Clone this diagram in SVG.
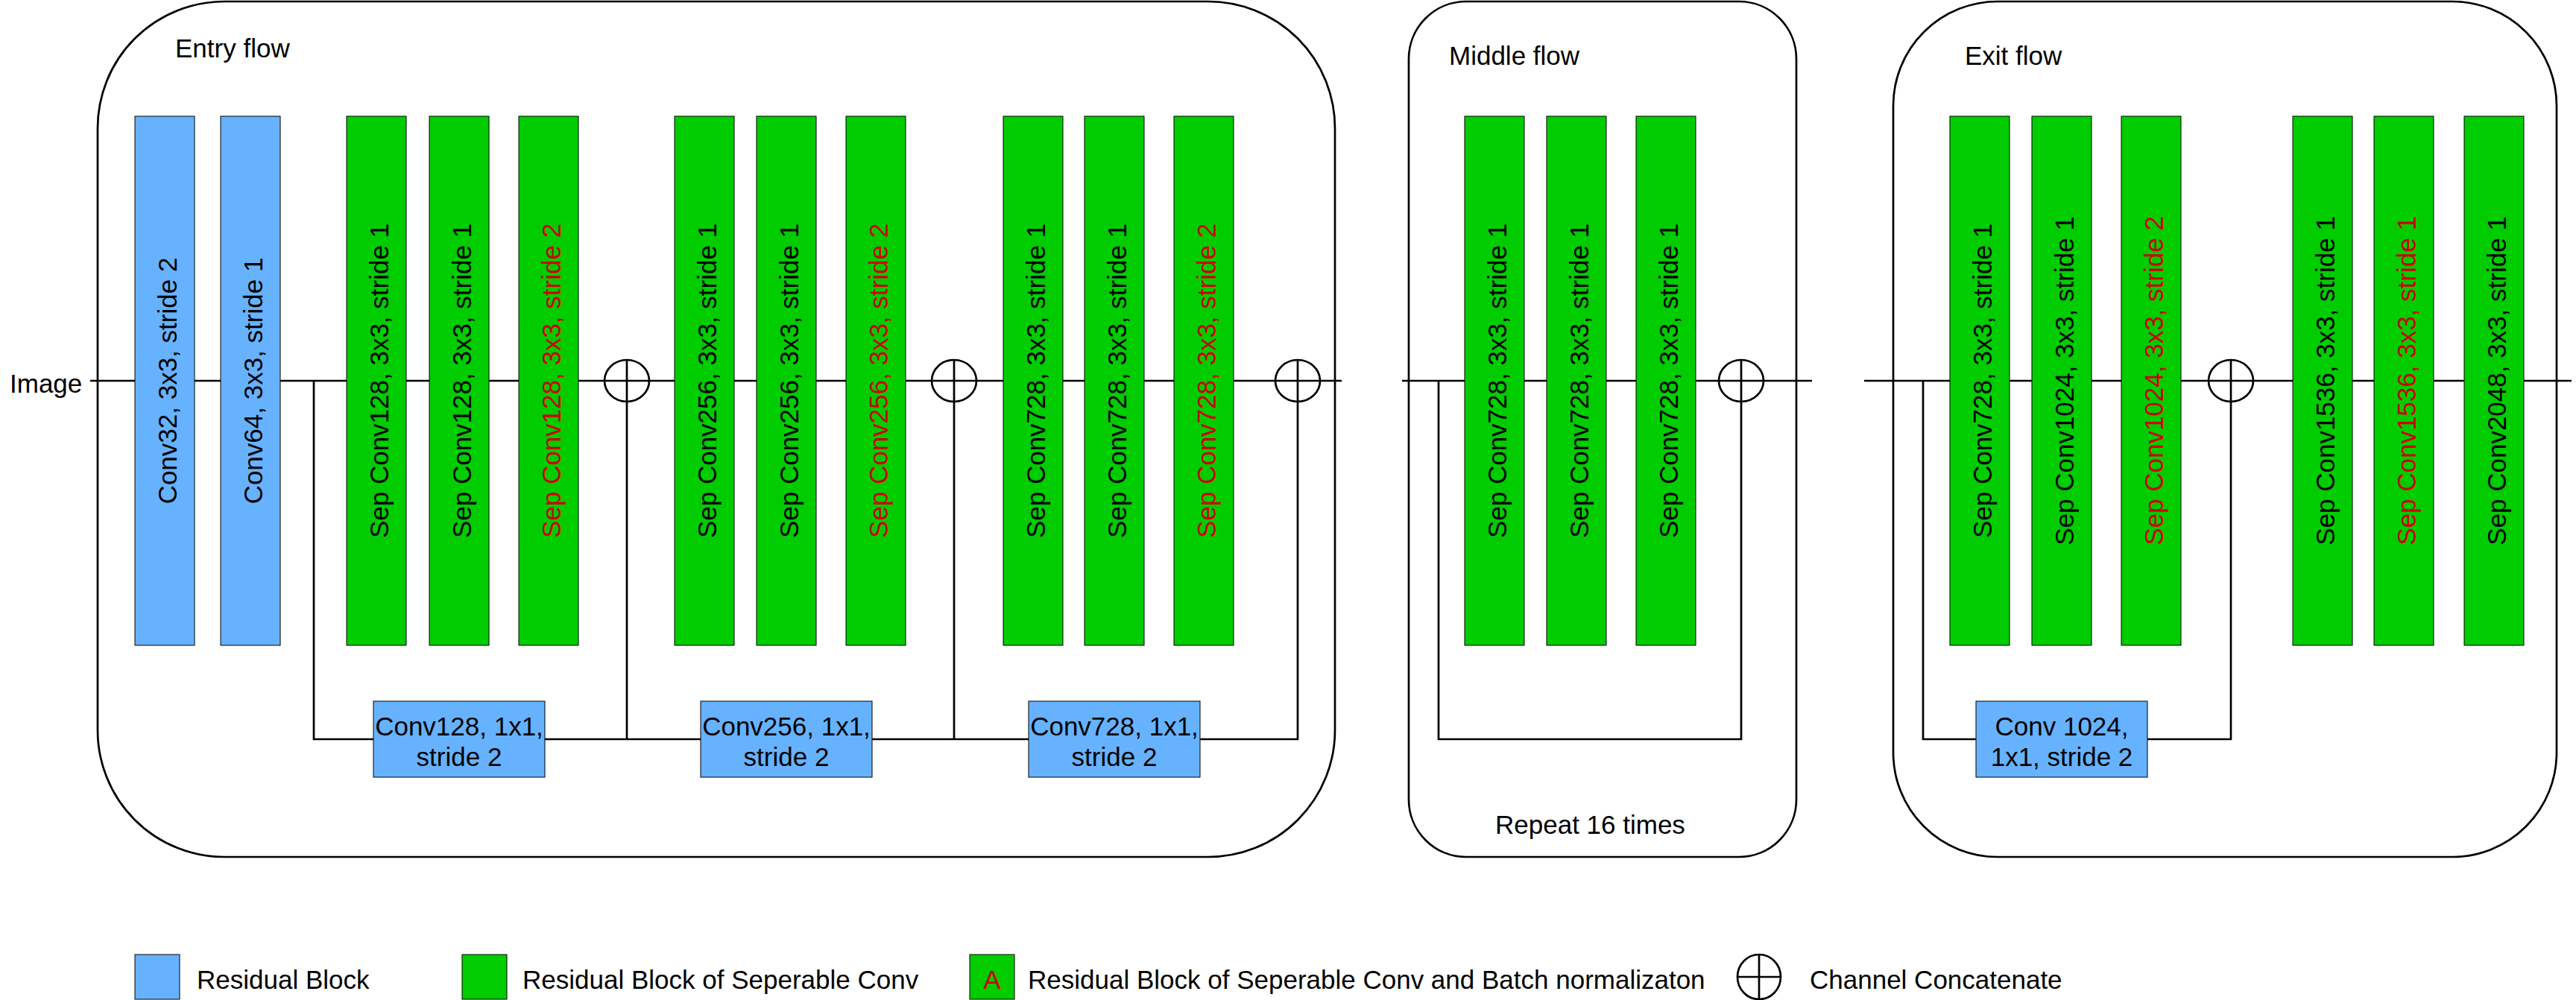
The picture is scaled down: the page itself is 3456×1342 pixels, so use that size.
<svg xmlns="http://www.w3.org/2000/svg" width="3456" height="1342" viewBox="0 0 3456 1342">
<style>
text{font-family:"Liberation Sans",Arial,Helvetica,sans-serif;font-size:35px;fill:#000}
.red{fill:#CC0000}
.mid{text-anchor:middle}
.cont{fill:none;stroke:#000;stroke-width:2.7}
.ln{fill:none;stroke:#000;stroke-width:2.7}
.blue{fill:#66B2FF;stroke:#000;stroke-width:1}
.green{fill:#00CC00;stroke:#000;stroke-width:1}
.cat{fill:none;stroke:#000;stroke-width:2.7}
</style>
<rect width="3456" height="1342" fill="#fff"/>

<g id="containers">
<g id="entry-flow"><rect class="cont" x="131" y="2" width="1660" height="1148" rx="170" ry="170"/><text x="235" y="77">Entry flow</text></g>
<g id="middle-flow"><rect class="cont" x="1890" y="2" width="520" height="1148" rx="77" ry="77"/><text x="1944" y="87">Middle flow</text><text x="2006" y="1119">Repeat 16 times</text></g>
<g id="exit-flow"><rect class="cont" x="2540" y="2" width="890" height="1148" rx="140" ry="140"/><text x="2636" y="87">Exit flow</text></g>
</g>

<g id="connectors">
<path class="ln" d="M121,511 H1800"/>
<path class="ln" d="M421,511 V992 H1741 V483"/>
<path class="ln" d="M841,483 V992 M1280,483 V992"/>
<path class="ln" d="M1881,511 H2431"/>
<path class="ln" d="M1930,511 V992 H2336 V483"/>
<path class="ln" d="M2501,511 H3450"/>
<path class="ln" d="M2580,511 V992 H2993 V483"/>
</g>

<text id="image-label" x="13" y="527">Image</text>

<g id="entry-blocks">
<g id="e1"><rect class="blue" x="181" y="156" width="80" height="710"/><text class="mid" transform="translate(221,511) rotate(-90)" y="16">Conv32, 3x3, stride 2</text></g>
<g id="e2"><rect class="blue" x="296" y="156" width="80" height="710"/><text class="mid" transform="translate(336,511) rotate(-90)" y="16">Conv64, 3x3, stride 1</text></g>
<g id="e3"><rect class="green" x="465" y="156" width="80" height="710"/><text class="mid" transform="translate(505,511) rotate(-90)" y="16">Sep Conv128, 3x3, stride 1</text></g>
<g id="e4"><rect class="green" x="576" y="156" width="80" height="710"/><text class="mid" transform="translate(616,511) rotate(-90)" y="16">Sep Conv128, 3x3, stride 1</text></g>
<g id="e5"><rect class="green" x="696" y="156" width="80" height="710"/><text class="mid red" transform="translate(736,511) rotate(-90)" y="16">Sep Conv128, 3x3, stride 2</text></g>
<g id="e6"><rect class="green" x="905" y="156" width="80" height="710"/><text class="mid" transform="translate(945,511) rotate(-90)" y="16">Sep Conv256, 3x3, stride 1</text></g>
<g id="e7"><rect class="green" x="1015" y="156" width="80" height="710"/><text class="mid" transform="translate(1055,511) rotate(-90)" y="16">Sep Conv256, 3x3, stride 1</text></g>
<g id="e8"><rect class="green" x="1135" y="156" width="80" height="710"/><text class="mid red" transform="translate(1175,511) rotate(-90)" y="16">Sep Conv256, 3x3, stride 2</text></g>
<g id="e9"><rect class="green" x="1346" y="156" width="80" height="710"/><text class="mid" transform="translate(1386,511) rotate(-90)" y="16">Sep Conv728, 3x3, stride 1</text></g>
<g id="e10"><rect class="green" x="1455" y="156" width="80" height="710"/><text class="mid" transform="translate(1495,511) rotate(-90)" y="16">Sep Conv728, 3x3, stride 1</text></g>
<g id="e11"><rect class="green" x="1575" y="156" width="80" height="710"/><text class="mid red" transform="translate(1615,511) rotate(-90)" y="16">Sep Conv728, 3x3, stride 2</text></g>
<g id="r1"><rect class="blue" x="501" y="941" width="230" height="102"/><text class="mid" x="616" y="987">Conv128, 1x1,</text><text class="mid" x="616" y="1028">stride 2</text></g>
<g id="r2"><rect class="blue" x="940" y="941" width="230" height="102"/><text class="mid" x="1055" y="987">Conv256, 1x1,</text><text class="mid" x="1055" y="1028">stride 2</text></g>
<g id="r3"><rect class="blue" x="1380" y="941" width="230" height="102"/><text class="mid" x="1495" y="987">Conv728, 1x1,</text><text class="mid" x="1495" y="1028">stride 2</text></g>
<g id="c1"><ellipse class="cat" cx="841" cy="511" rx="30" ry="28"/></g>
<g id="c2"><ellipse class="cat" cx="1280" cy="511" rx="30" ry="28"/></g>
<g id="c3"><ellipse class="cat" cx="1741" cy="511" rx="30" ry="28"/></g>
</g>

<g id="middle-blocks">
<g id="m1"><rect class="green" x="1965" y="156" width="80" height="710"/><text class="mid" transform="translate(2005,511) rotate(-90)" y="16">Sep Conv728, 3x3, stride 1</text></g>
<g id="m2"><rect class="green" x="2075" y="156" width="80" height="710"/><text class="mid" transform="translate(2115,511) rotate(-90)" y="16">Sep Conv728, 3x3, stride 1</text></g>
<g id="m3"><rect class="green" x="2195" y="156" width="80" height="710"/><text class="mid" transform="translate(2235,511) rotate(-90)" y="16">Sep Conv728, 3x3, stride 1</text></g>
<g id="c4"><ellipse class="cat" cx="2336" cy="511" rx="30" ry="28"/></g>
</g>

<g id="exit-blocks">
<g id="x1"><rect class="green" x="2616" y="156" width="80" height="710"/><text class="mid" transform="translate(2656,511) rotate(-90)" y="16">Sep Conv728, 3x3, stride 1</text></g>
<g id="x2"><rect class="green" x="2726" y="156" width="80" height="710"/><text class="mid" transform="translate(2766,511) rotate(-90)" y="16">Sep Conv1024, 3x3, stride 1</text></g>
<g id="x3"><rect class="green" x="2846" y="156" width="80" height="710"/><text class="mid red" transform="translate(2886,511) rotate(-90)" y="16">Sep Conv1024, 3x3, stride 2</text></g>
<g id="x4"><rect class="green" x="3076" y="156" width="80" height="710"/><text class="mid" transform="translate(3116,511) rotate(-90)" y="16">Sep Conv1536, 3x3, stride 1</text></g>
<g id="x5"><rect class="green" x="3185" y="156" width="80" height="710"/><text class="mid red" transform="translate(3225,511) rotate(-90)" y="16">Sep Conv1536, 3x3, stride 1</text></g>
<g id="x6"><rect class="green" x="3306" y="156" width="80" height="710"/><text class="mid" transform="translate(3346,511) rotate(-90)" y="16">Sep Conv2048, 3x3, stride 1</text></g>
<g id="r4"><rect class="blue" x="2651" y="941" width="230" height="102"/><text class="mid" x="2766" y="987">Conv 1024,</text><text class="mid" x="2766" y="1028">1x1, stride 2</text></g>
<g id="c5"><ellipse class="cat" cx="2993" cy="511" rx="30" ry="28"/></g>
</g>

<g id="legend">
<g id="lg1"><rect class="blue" x="181" y="1281" width="60" height="60" stroke-width="1.5"/><text x="264" y="1327">Residual Block</text></g>
<g id="lg2"><rect class="green" x="620" y="1281" width="60" height="60" stroke-width="1.5"/><text x="701" y="1327">Residual Block of Seperable Conv</text></g>
<g id="lg3"><rect class="green" x="1301" y="1281" width="60" height="60" stroke-width="1.5"/><text class="mid red" x="1331" y="1327">A</text><text x="1379" y="1327">Residual Block of Seperable Conv and Batch normalizaton</text></g>
<g id="lg4"><ellipse class="cat" cx="2360" cy="1311" rx="29" ry="30"/><path class="ln" d="M2360,1281 V1341 M2331,1311 H2389"/><text x="2428" y="1327">Channel Concatenate</text></g>
</g>
</svg>
